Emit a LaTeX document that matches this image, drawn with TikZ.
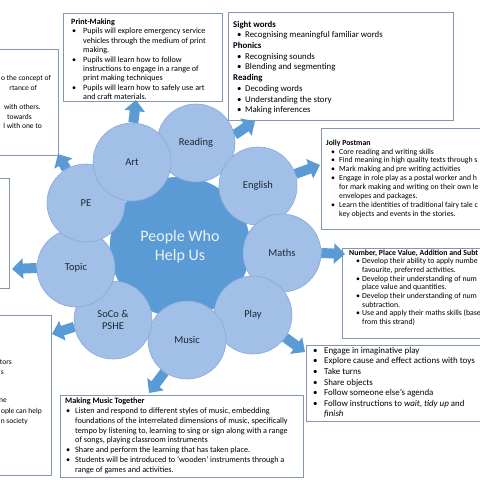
\documentclass[tikz,border=0pt]{standalone}
\usepackage{fontspec}
\setmainfont{Carlito}
\usetikzlibrary{arrows.meta}
\definecolor{circfill}{HTML}{A2C0E7}
\definecolor{circline}{HTML}{88A9D8}
\definecolor{hubfill}{HTML}{5B9BD5}
\definecolor{arrowblue}{HTML}{5B9BD5}
\definecolor{boxline}{HTML}{8497B0}
\definecolor{labelcol}{HTML}{1C2733}
\definecolor{hubtext}{HTML}{EAF2FB}
\newlength{\bulw}\newlength{\bullead}
\newcommand{\bu}{\makebox[\bulw][l]{\hspace*{\bullead}•}}
\newcommand{\ii}{\hspace*{\bulw}}
\pgfdeclarelayer{boxes}\pgfdeclarelayer{arrows}
\pgfsetlayers{boxes,arrows,main}
\begin{document}
\begin{tikzpicture}[x=1pt,y=-1pt,
  subj/.style={circle, minimum size=78pt, inner sep=0pt, fill=circfill, draw=circline, line width=0.6pt, text=labelcol, font=\fontsize{10.5}{12.5}\selectfont, align=center},
  hub/.style={circle, minimum size=140pt, inner sep=0pt, fill=hubfill, draw=hubfill, text=hubtext, font=\fontsize{16}{19}\selectfont, align=center},
  blockarrow/.style={draw=arrowblue, line width=10pt, -{Triangle[length=11pt,width=20pt]}},
  panel/.style={draw=boxline, fill=white, line width=0.7pt, inner sep=0pt, anchor=north west},
  txt/.style={inner sep=0pt, anchor=north west, align=left, text=black},
  frag/.style={inner sep=0pt, anchor=mid east, text=black, font=\fontsize{7.5}{9}\selectfont}
]
\useasboundingbox (0,0) rectangle (480,480);
\begin{pgfonlayer}{boxes}
\begin{scope}
\clip (0,0) rectangle (480,480);
\fill[white] (0,0) rectangle (480,480);
% boxes
\node[panel, minimum width=62pt, minimum height=106pt] (pebox) at (-4,49) {};
\node[panel, minimum width=13pt, minimum height=110pt] (topicbox) at (-4,178) {};
\node[panel, minimum width=55pt, minimum height=160pt] (socobox) at (-4,315) {};
\node[panel, minimum width=159pt, minimum height=88pt] (printbox) at (63,13) {};
\node[panel, minimum width=225pt, minimum height=108pt] (sightbox) at (228,12) {};
\node[panel, minimum width=165pt, minimum height=101pt] (jollybox) at (321,128) {};
\node[panel, minimum width=145pt, minimum height=90pt] (numbox) at (342,248) {};
\node[panel, minimum width=180pt, minimum height=76pt] (playbox) at (306,345) {};
\node[panel, minimum width=243pt, minimum height=82pt] (musicbox) at (60,395) {};
% fragments of the PE box
\node[frag] (pe1) at (51,78) {o the concept of};
\node[frag] (pe2) at (37,88) {rtance of};
\node[frag] (pe3) at (41,107) {with others.};
\node[frag] (pe4) at (32,117) {towards};
\node[frag] (pe5) at (42,126) {l with one to};
% fragments of the SoCo box
\node[frag] (so1) at (12,362) {tors};
\node[frag] (so2) at (4,372) {s};
\node[frag] (so3) at (7,400) {ne};
\node[frag] (so4) at (42,411) {ople can help};
\node[frag] (so5) at (28,421) {n society};
% texts
\node[txt, font={\fontsize{8.1}{9.4}\selectfont\setlength\bulw{12pt}\setlength\bullead{1pt}}] (printtxt) at (71,18.6) {%
\textbf{Print-Making}\\
\bu Pupils will explore emergency service\\
\ii vehicles through the medium of print\\
\ii making.\\
\bu Pupils will learn how to follow\\
\ii instructions to engage in a range of\\
\ii print making techniques\\
\bu Pupils will learn how to safely use art\\
\ii and craft materials.};
\node[txt, font={\fontsize{8.8}{10.7}\selectfont\setlength\bulw{12pt}\setlength\bullead{4pt}}] (sighttxt) at (233,20.8) {%
\textbf{Sight words}\\
\bu Recognising meaningful familiar words\\
\textbf{Phonics}\\
\bu Recognising sounds\\
\bu Blending and segmenting\\
\textbf{Reading}\\
\bu Decoding words\\
\bu Understanding the story\\
\bu Making inferences};
\node[txt, font={\fontsize{7.8}{8.9}\selectfont\setlength\bulw{13pt}\setlength\bullead{5pt}}] (jollytxt) at (326,139.5) {%
\textbf{Jolly Postman}\\
\bu Core reading and writing skills\\
\bu Find meaning in high quality texts through s\\
\bu Mark making and pre writing activities\\
\bu Engage in role play as a postal worker and h\\
\ii for mark making and writing on their own le\\
\ii envelopes and packages.\\
\bu Learn the identities of traditional fairy tale c\\
\ii key objects and events in the stories.};
\node[txt, font={\fontsize{7.8}{8.65}\selectfont\setlength\bulw{13pt}\setlength\bullead{7pt}}] (numtxt) at (349,249.5) {%
\textbf{Number, Place Value, Addition and Subt}\\
\bu Develop their ability to apply numbe\\
\ii favourite, preferred activities.\\
\bu Develop their understanding of num\\
\ii place value and quantities.\\
\bu Develop their understanding of num\\
\ii subtraction.\\
\bu Use and apply their maths skills (base\\
\ii from this strand)};
\node[txt, font={\fontsize{8.9}{10.6}\selectfont\setlength\bulw{11pt}\setlength\bullead{0pt}}] (playtxt) at (313,347) {%
\bu Engage in imaginative play\\
\bu Explore cause and effect actions with toys\\
\bu Take turns\\
\bu Share objects\\
\bu Follow someone else’s agenda\\
\bu Follow instructions to \textit{wait}, \textit{tidy up} and\\
\ii \textit{finish}};
\node[txt, font={\fontsize{8.2}{9.9}\selectfont\setlength\bulw{10pt}\setlength\bullead{1pt}}] (musictxt) at (65,397.4) {%
\textbf{Making Music Together}\\
\bu Listen and respond to different styles of music, embedding\\
\ii foundations of the interrelated dimensions of music, specifically\\
\ii tempo by listening to, learning to sing or sign along with a range\\
\ii of songs, playing classroom instruments\\
\bu Share and perform the learning that has taken place.\\
\bu Students will be introduced to ‘wooden’ instruments through a\\
\ii range of games and activities.};
\end{scope}
\end{pgfonlayer}
% hub and subjects
\node[hub] (hub) at (180,247) {People Who\\Help Us};
\node[subj] (reading) at (196,143) {Reading};
\node[subj] (english) at (258,186) {English};
\node[subj] (maths) at (282,253) {Maths};
\node[subj] (play) at (253,315) {Play};
\node[subj] (music) at (187,340) {Music};
\node[subj] (soco) at (113,320) {SoCo \&\\PSHE};
\node[subj] (topic) at (76,268) {Topic};
\node[subj] (pe) at (86,203) {PE};
\node[subj] (art) at (132,162) {Art};
% arrow tips
\coordinate (artT) at (136,100);
\coordinate (readingT) at (255,121);
\coordinate (englishT) at (320,165);
\coordinate (mathsT) at (345,254);
\coordinate (playT) at (305,352);
\coordinate (musicT) at (149,393);
\coordinate (socoT) at (52,334);
\coordinate (topicT) at (12,269);
\coordinate (peT) at (58,154);
\begin{pgfonlayer}{arrows}
\draw[blockarrow] (art.88) -- (artT);
\draw[blockarrow] (reading.12) -- (readingT);
\draw[blockarrow] (english.18) -- (englishT);
\draw[blockarrow] (maths.0) -- (mathsT);
\draw[blockarrow] (play.-35) -- (playT);
\draw[blockarrow] (music.-125) -- (musicT);
\draw[blockarrow] (soco.190) -- (socoT);
\draw[blockarrow] (topic.180) -- (topicT);
\draw[blockarrow] (pe.120) -- (peT);
\end{pgfonlayer}
\end{tikzpicture}
\end{document}
